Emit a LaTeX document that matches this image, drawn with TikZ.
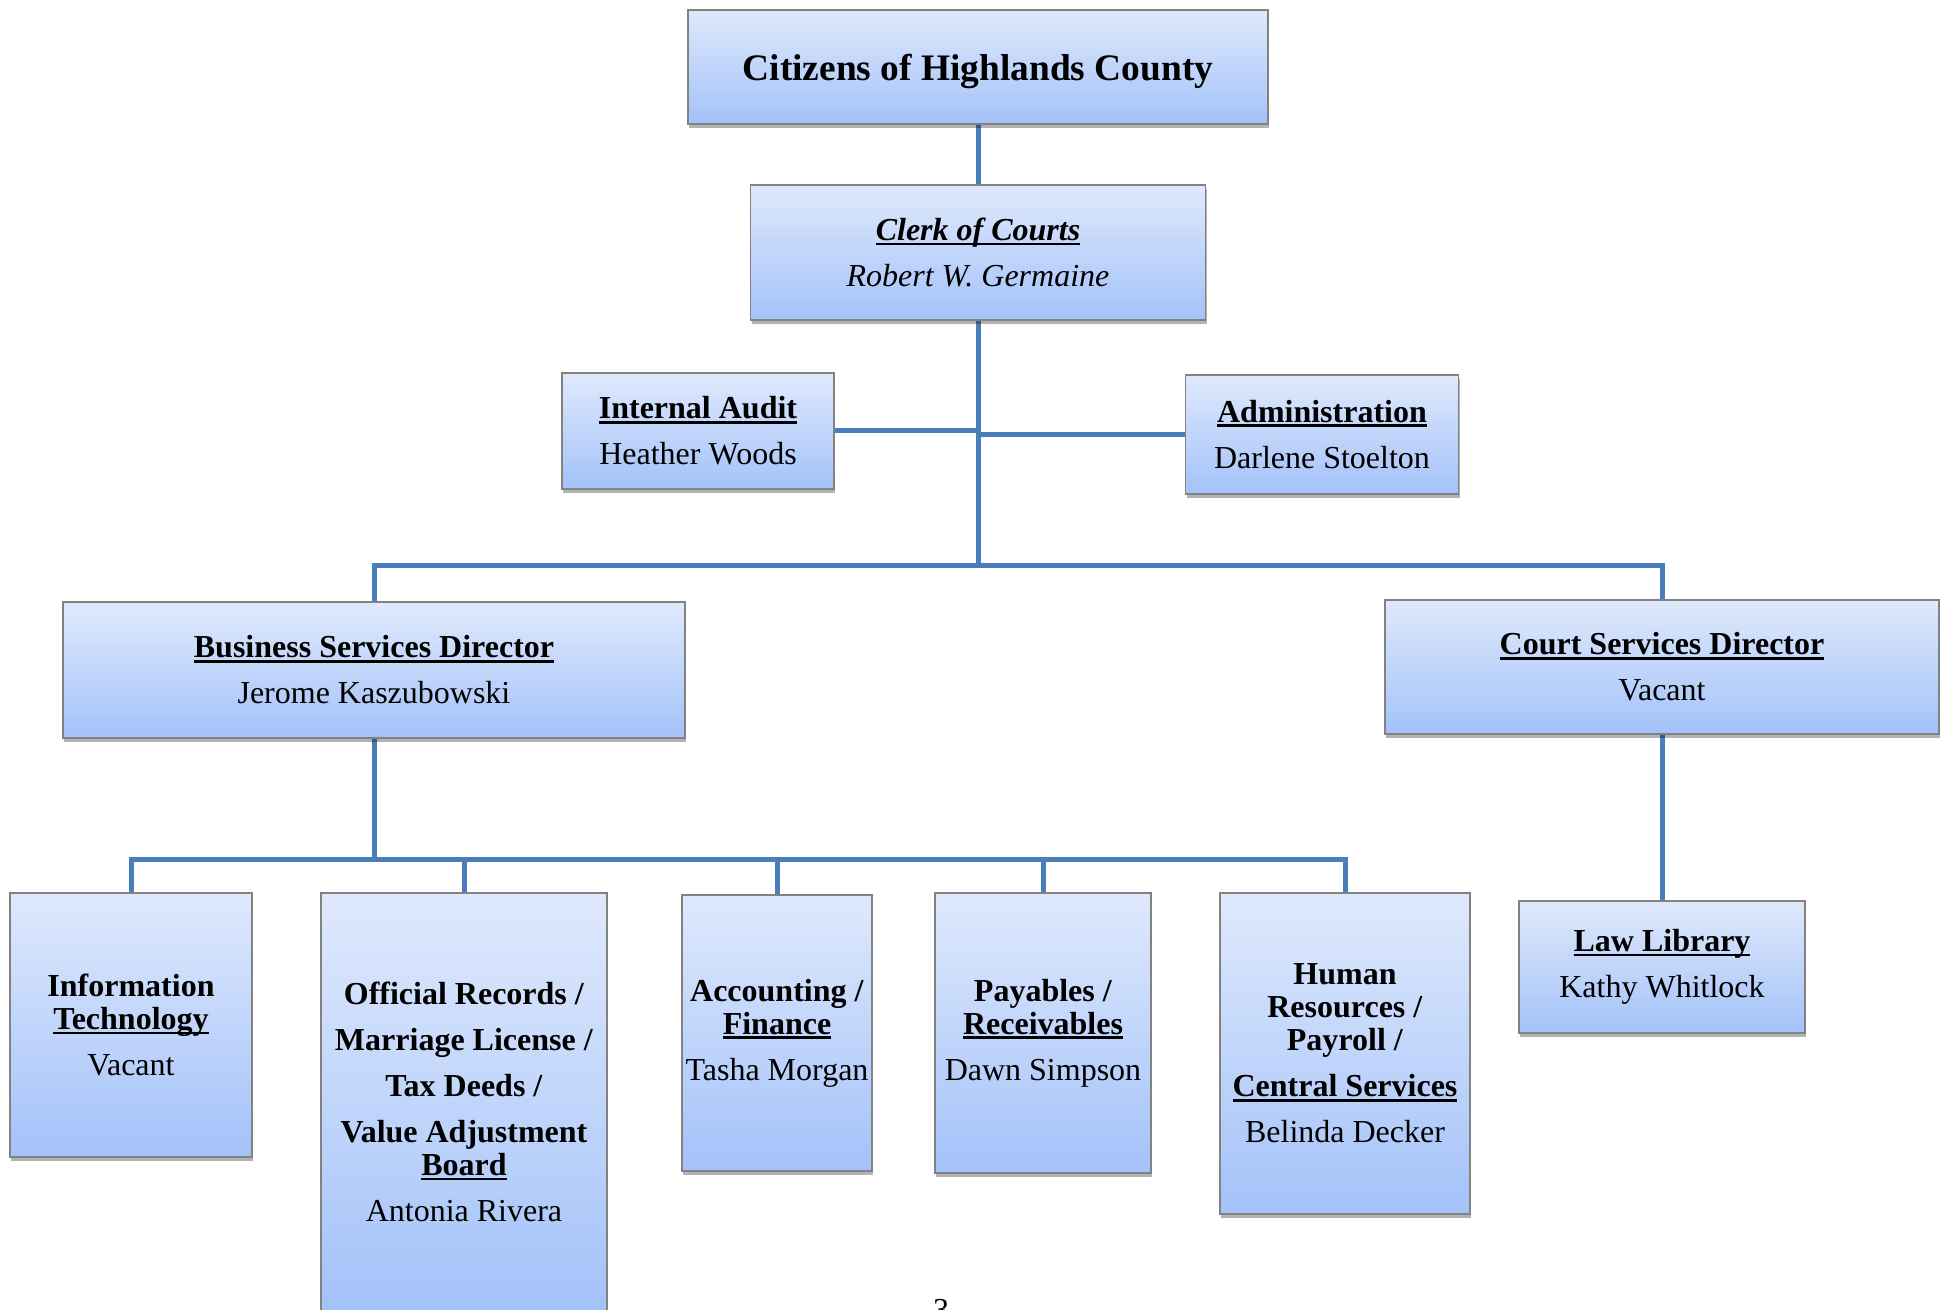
\documentclass[tikz,border=0pt]{standalone}
\usepackage{fontspec}
\setmainfont{Liberation Serif}
\usetikzlibrary{shadows,backgrounds}
\definecolor{boxtop}{RGB}{223,233,252}
\definecolor{boxbot}{RGB}{163,194,249}
\definecolor{conn}{RGB}{74,126,187}
\definecolor{boxline}{RGB}{130,130,130}
\newcommand{\ulx}[1]{\setbox0=\hbox{#1}\rlap{\rule[-2.4pt]{\wd0}{1.4pt}}\box0}
\tikzset{
 orgbox/.style={rectangle, draw=boxline, line width=0.7pt, top color=boxtop, bottom color=boxbot,
   drop shadow={shadow xshift=0.6pt, shadow yshift=-1.8pt, fill=black, opacity=0.3},
   align=center, inner sep=1pt, font=\fontsize{16}{16.5}\selectfont},
 link/.style={draw=conn, line width=2.5pt},
}
\begin{document}
\begin{tikzpicture}[x=0.5pt,y=-0.5pt]
\useasboundingbox (0,0) rectangle (1950,1310);
\clip (0,0) rectangle (1950,1310);
\node[orgbox, minimum width=290pt, minimum height=57pt, text depth=0pt, font=\fontsize{18.7}{22}\selectfont\bfseries] (cit) at (978,67) {Citizens of Highlands County};
\node[orgbox, minimum width=227.5pt, minimum height=67.5pt] (clerk) at (978,252.5) {\ulx{\textbf{\textit{Clerk of Courts}}}\\[6.5pt]\textit{Robert W. Germaine}};
\node[orgbox, minimum width=136pt, minimum height=58pt] (audit) at (698,431) {\ulx{\textbf{Internal Audit}}\\[6.5pt]Heather Woods};
\node[orgbox, minimum width=136.5pt, minimum height=59.5pt] (admin) at (1322,434.5) {\ulx{\textbf{Administration}}\\[6.5pt]Darlene Stoelton};
\node[orgbox, minimum width=311pt, minimum height=68pt] (biz) at (374,670) {\ulx{\textbf{Business Services Director}}\\[6.5pt]Jerome Kaszubowski};
\node[orgbox, minimum width=277pt, minimum height=67pt] (court) at (1662,667) {\ulx{\textbf{Court Services Director}}\\[6.5pt]Vacant};
\node[orgbox, minimum width=121pt, minimum height=132pt] (it) at (131,1025) {\textbf{Information}\\\ulx{\textbf{Technology}}\\[6.5pt]Vacant};
\node[orgbox, minimum width=143pt, minimum height=209pt] (off) at (464,1102) {\textbf{Official Records /}\\[6.5pt]\textbf{Marriage License /}\\[6.5pt]\textbf{Tax Deeds /}\\[6.5pt]\textbf{Value Adjustment}\\\ulx{\textbf{Board}}\\[6.5pt]Antonia Rivera};
\node[orgbox, minimum width=95pt, minimum height=138pt] (acct) at (777,1033) {\textbf{Accounting /}\\\ulx{\textbf{Finance}}\\[6.5pt]Tasha Morgan};
\node[orgbox, minimum width=108pt, minimum height=140pt] (pay) at (1043,1033) {\textbf{Payables /}\\\ulx{\textbf{Receivables}}\\[6.5pt]Dawn Simpson};
\node[orgbox, minimum width=125pt, minimum height=160.5pt] (hr) at (1345,1053.5) {\textbf{Human}\\\textbf{Resources /}\\\textbf{Payroll /}\\[6.5pt]\ulx{\textbf{Central Services}}\\[6.5pt]Belinda Decker};
\node[orgbox, minimum width=143pt, minimum height=66pt] (law) at (1662,967) {\ulx{\textbf{Law Library}}\\[6.5pt]Kathy Whitlock};
\node[anchor=north, inner sep=0pt, font=\fontsize{16}{16}\selectfont] (pg) at (941,1299) {3};
\begin{scope}[on background layer]
\coordinate (hub) at (978,566);
\coordinate (hubb) at (374,859);
\draw[link] (cit.south) -- (clerk.north);
\draw[link] (clerk.south) -- (hub);
\draw[link] (audit.east) -- (audit.east -| clerk.south);
\draw[link] (admin.west) -- (admin.west -| clerk.south);
\draw[link] (biz.north) |- (hub) -| (court.north);
\draw[link] (biz.south) -- (hubb);
\draw[link] (it.north) |- (hubb) -| (hr.north);
\draw[link] (off.north) -- (off.north |- hubb);
\draw[link] (acct.north) -- (acct.north |- hubb);
\draw[link] (pay.north) -- (pay.north |- hubb);
\draw[link] (court.south) -- (law.north);
\end{scope}
\end{tikzpicture}
\end{document}
